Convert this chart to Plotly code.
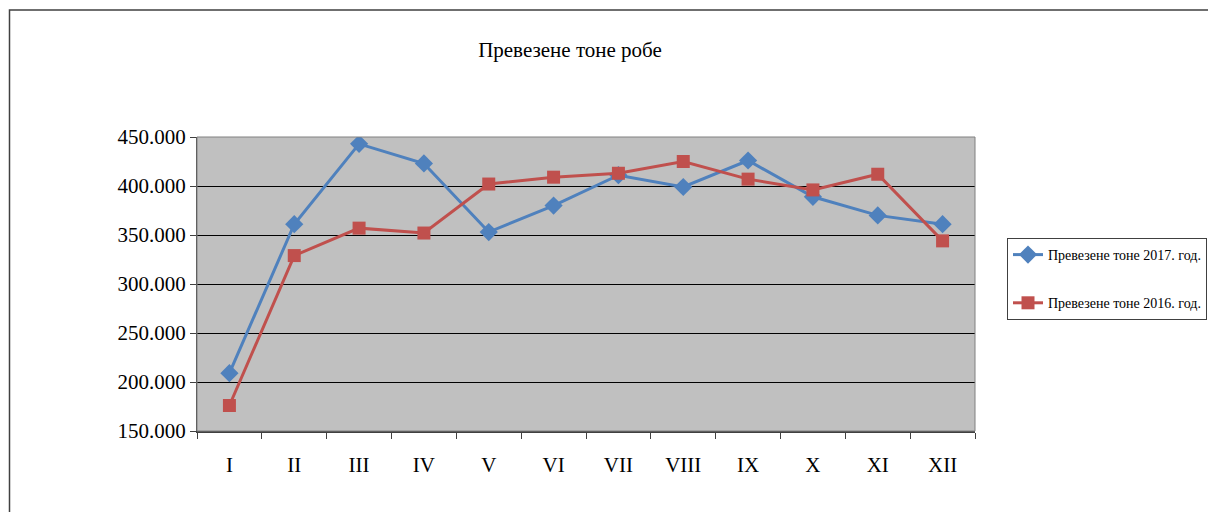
import plotly.graph_objects as go

months = ["I", "II", "III", "IV", "V", "VI", "VII", "VIII", "IX", "X", "XI", "XII"]
tons_2017 = [209000, 361000, 443000, 423000, 353000, 380000, 411000, 399000, 426000, 389000, 370000, 361000]
tons_2016 = [176000, 329000, 357000, 352000, 402000, 409000, 413000, 425000, 407000, 396000, 412000, 344000]
name_2017 = "Превезене тоне 2017. год."
name_2016 = "Превезене тоне 2016. год."
title = "Превезене тоне робе"
y_ticks = [150000, 200000, 250000, 300000, 350000, 400000, 450000]

W, H = 1216, 512
OFF = 8  # page body margin
L, R, T, B = 197 - OFF, 241 + OFF, 137 - OFF, 81 + OFF
pw, ph = W - L - R, H - T - B

fig = go.Figure()
fig.add_trace(go.Scatter(
    x=months, y=tons_2017, name=name_2017, mode="lines+markers",
    line=dict(color="#4F81BD", width=3),
    marker=dict(symbol="diamond", size=14, color="#4F81BD"),
    legendgroup="a",
))
fig.add_trace(go.Scatter(
    x=months, y=tons_2016, name=name_2016, mode="lines+markers",
    line=dict(color="#C0504D", width=3),
    marker=dict(symbol="square", size=13, color="#C0504D"),
    legendgroup="b",
))

fig.update_layout(
    width=W, height=H,
    margin=dict(l=L, r=R, t=T, b=B, autoexpand=False),
    paper_bgcolor="white",
    plot_bgcolor="#C0C0C0",
    separators=",.",
    font=dict(family="Liberation Serif", color="black"),
    title=dict(text=title, x=(570 - OFF) / W, xanchor="center", y=1 - (50 - OFF) / H, yanchor="middle",
               font=dict(size=21, family="Liberation Serif", color="black")),
    showlegend=True,
    legend=dict(
        x=(1007 - 197) / pw, xanchor="left",
        y=(431 - 279) / ph, yanchor="middle",
        bordercolor="#404040", borderwidth=1, bgcolor="white",
        font=dict(size=14, family="Liberation Serif", color="black"),
        traceorder="grouped", tracegroupgap=27,
    ),
    hovermode=False,
)
fig.update_xaxes(
    type="category", range=[-0.5, 11.5], tickson="boundaries", ticks="outside", ticklen=6,
    tickcolor="#404040",
    showline=True, linecolor="#404040", linewidth=2, mirror=False,
    showgrid=False, tickfont=dict(size=21, family="Liberation Serif", color="black"),
    ticklabelstandoff=14,
)
fig.update_yaxes(
    range=[150000, 450000], tickvals=y_ticks, tickformat=",.0f",
    ticks="outside", ticklen=6, tickcolor="#404040",
    showline=True, linecolor="#404040", linewidth=1,
    showgrid=True, gridcolor="black", gridwidth=1,
    tickfont=dict(size=21, family="Liberation Serif", color="black"),
    zeroline=False,
)
# right & top border of plot area
fig.add_shape(type="rect", xref="paper", yref="paper", x0=0, x1=1, y0=0, y1=1,
              line=dict(color="#808080", width=1), layer="above")
# outer chart frame
fig.add_shape(type="rect", xref="paper", yref="paper",
              x0=(9.5 - 197) / pw, x1=(W + 30 - 197) / pw,
              y0=-(B + 20) / ph, y1=(431 - 10) / ph,
              line=dict(color="#404040", width=1.5), layer="above")

fig.write_html("out.html")
